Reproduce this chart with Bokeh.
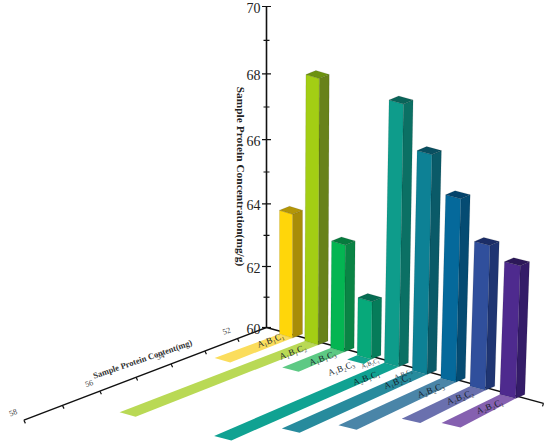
import math
from bokeh.plotting import figure
from bokeh.core.properties import value
from bokeh.embed import file_html
from bokeh.resources import INLINE

# ---- data ----
concentration = [63.96, 68.20, 63.36, 61.81, 67.83, 66.53, 65.43, 64.27, 63.88]
content = [53.1, 56.5, 52.6, 51.4, 56.1, 55.0, 54.2, 53.2, 52.9]
z_ticks = [60, 61, 62, 63, 64, 65, 66, 67, 68, 69, 70]
z_labels = ["60", "62", "64", "66", "68", "70"]
depth_ticks = [52, 53, 54, 55, 56, 57, 58]
depth_labels = ["52", "54", "56", "58"]
treatments = ["A₁B₁C₁", "A₁B₁C₂", "A₁B₁C₃", "A₁B₂C₃", "A₁B₂C₁", "A₂B₁C₁",
              "A₂B₁C₂", "A₁B₂C₂", "A₂B₂C₃", "A₂B₂C₂", "A₂B₂C₁"]

front_cols = ["#FFD60A", "#A3CE14", "#04B552", "#07A97A", "#0E9C8B", "#0D8195", "#05699B", "#304F9C", "#4E2A8E"]
side_cols = ["#A88C08", "#68821A", "#0A8445", "#067C5A", "#0B7064", "#0A5A68", "#054B72", "#1F3572", "#341C68"]
top_cols = ["#B39608", "#6C9210", "#077A3E", "#066C52", "#0A6459", "#094F60", "#04436B", "#1B2D66", "#2C1858"]
strip_cols = ["#FBDD5C", "#B9D955", "#5DC984", "#12A58F", "#10A292", "#278B9D", "#4A85A8", "#6A70AE", "#8560B0"]

# ---- oblique projection with light perspective ----
OX, OY = 266.0, 327.0


def z_px(v):
    h = v - 60
    return 30.1 * h + 0.2 * h * h


def depth_px(v):
    t = v - 52
    return 29 + 32 * t + 0.6 * t * t


def base(i):
    x = 279 + 24.9 * i + 0.33 * i * i
    return x, OY + 0.274 * (x - OX) + 3


def lifted(i, v):
    x, y = base(i)
    return x + 0.15 * i * (v - 60), y - z_px(v) * (1 + 0.012 * (i + 1))


def poly(points):
    return [a for a, _ in points], [b for _, b in points]


p = figure(width=550, height=447, x_range=(0, 550), y_range=(447, 0),
           output_backend="svg", toolbar_location=None, min_border=0)
p.axis.visible = False
p.grid.visible = False
p.outline_line_color = None
p.background_fill_color = "white"
p.styles = {"position": "absolute", "left": "0px", "top": "0px"}

BLACK = "#111111"
SERIF = value("Liberation Serif")

# row axis
row_end = 543
p.line([OX, row_end], [OY, OY + 0.274 * (row_end - OX)], line_color=BLACK, line_width=1.5)
p.line([row_end, row_end - 1], [OY + 0.274 * (row_end - OX), OY + 0.274 * (row_end - OX) + 3],
       line_color=BLACK, line_width=1.2)

# depth axis
AX_SLOPE = 0.382
dx_end = depth_px(depth_ticks[-1])
p.line([OX, OX - dx_end], [OY, OY + AX_SLOPE * dx_end], line_color=BLACK, line_width=1.5)
for v in depth_ticks:
    d = depth_px(v)
    p.line([OX - d, OX - d + 1.5], [OY + AX_SLOPE * d, OY + AX_SLOPE * d + 3.2],
           line_color=BLACK, line_width=1.2)
for s in depth_labels:
    d = depth_px(float(s))
    p.text([OX - d - 11], [OY + AX_SLOPE * d - 8], text=[s], text_font=SERIF, text_font_size="8px",
           text_color="#444444", text_align="center", text_baseline="middle", angle=0.35)
p.text([142], [358.5], text=["Sample Protein Content(mg)"], text_font=SERIF, text_font_style="bold",
       text_font_size="8.5px", text_color="#333333", text_align="center", text_baseline="middle",
       angle=0.33)

# z axis
p.line([OX, OX], [OY, OY - z_px(z_ticks[-1])], line_color=BLACK, line_width=1.6)
for v in z_ticks:
    half = 4.5 if v % 2 == 0 else 3
    yy = OY - z_px(v)
    p.line([OX - half, OX + half], [yy, yy], line_color=BLACK, line_width=1.2)
for s in z_labels:
    p.text([260], [OY - z_px(float(s)) + 1], text=[s], text_font=SERIF, text_font_size="14px",
           text_color="#222222", text_align="right", text_baseline="middle")
p.text([240], [176], text=["Sample Protein Concentration(mg/g)"], text_font=SERIF,
       text_font_style="bold", text_font_size="11.4px", text_color="#222222",
       text_align="center", text_baseline="middle", angle=-math.pi / 2)

# floor strips and bars
front_vec = lambda i: (13 + 0.35 * i, 4.0)
side_vec = lambda i: (10 - 0.1 * i, -4.0)

sx, sy = [], []
fx, fy, rx, ry, tx, ty = [], [], [], [], [], []
for i, (c, v) in enumerate(zip(concentration, content)):
    bx, by = base(i)
    fv, sv = front_vec(i), side_vec(i)
    d = depth_px(v)
    slope = 0.37 + 0.015 * i
    tip = (bx - d, by + slope * d)
    a, b = poly([(bx, by), (bx + fv[0], by + fv[1]),
                 (tip[0] + 1.2 * fv[0], tip[1] + 1.1 * fv[1]), tip])
    sx.append(a); sy.append(b)

    lx, ly = lifted(i, c)
    a, b = poly([(bx, by), (bx + fv[0], by + fv[1]), (lx + fv[0], ly + fv[1]), (lx, ly)])
    fx.append(a); fy.append(b)
    a, b = poly([(bx + fv[0], by + fv[1]), (bx + fv[0] + sv[0], by + fv[1] + sv[1]),
                 (lx + fv[0] + sv[0], ly + fv[1] + sv[1]), (lx + fv[0], ly + fv[1])])
    rx.append(a); ry.append(b)
    a, b = poly([(lx, ly), (lx + fv[0], ly + fv[1]), (lx + fv[0] + sv[0], ly + fv[1] + sv[1]),
                 (lx + sv[0], ly + sv[1])])
    tx.append(a); ty.append(b)

p.patches(sx, sy, fill_color=strip_cols, line_color=None)
p.patches(rx, ry, fill_color=side_cols, line_color="#00000033", line_width=0.5)
p.patches(fx, fy, fill_color=front_cols, line_color="#00000033", line_width=0.5)
p.patches(tx, ty, fill_color=top_cols, line_color="#00000033", line_width=0.5)

# treatment labels: bar index, offset from that bar's foot, size
label_layout = [(0, -9, 6, 9), (1, -12, 11, 9), (2, -8, 10, 9), (3, -16, 13, 9), (3, 13, 8, 6),
                (4, -18, 15, 9), (4, 19, 11, 6), (5, -15, 11, 9), (6, -10, 12, 9), (7, -10, 11, 9),
                (8, -10, 12, 9)]
for s, (i, ox, oy, size) in zip(treatments, label_layout):
    bx, by = base(i)
    p.text([bx + ox], [by + oy], text=[s], text_font=SERIF, text_font_size=f"{size}px",
           text_color="#141e2a", text_align="center", text_baseline="middle", angle=0.36)

open("out.html", "w").write(file_html(p, INLINE))
